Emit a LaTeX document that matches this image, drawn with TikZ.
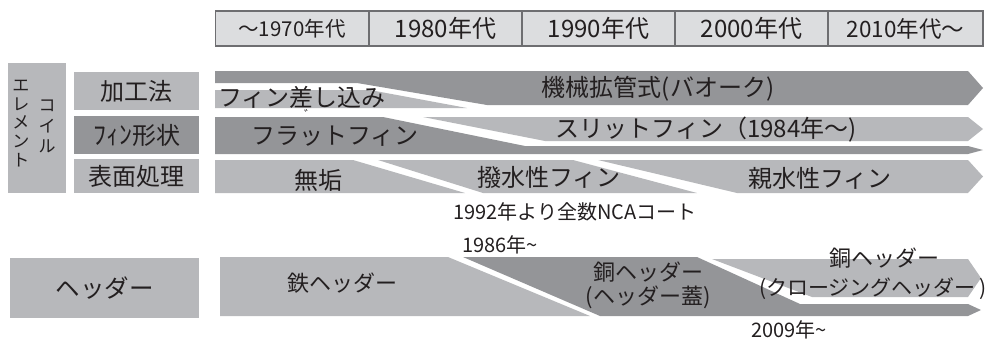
\documentclass[tikz,border=0pt]{standalone}
\usepackage{fontspec}
\setmainfont{Noto Sans CJK JP}
\newcommand\myfs[1]{\fontsize{#1}{#1}\selectfont}
\definecolor{lgray}{RGB}{183,184,187}
\definecolor{dgray}{RGB}{148,149,152}
\definecolor{tgray}{RGB}{220,221,223}
\definecolor{bgray}{RGB}{110,110,113}
\definecolor{ink}{RGB}{35,31,32}
\tikzset{
  lband/.style={fill=lgray, draw=none},
  dband/.style={fill=dgray, draw=none},
  lbox/.style={fill=lgray, draw=none, inner sep=0pt, text=ink, font=\myfs{24}},
  dbox/.style={fill=dgray, draw=none, inner sep=0pt, text=ink, font=\myfs{24}},
  txt/.style={inner sep=0pt, text=ink, font=\myfs{24}},
  stxt/.style={inner sep=0pt, text=ink, font=\myfs{20}},
  htxt/.style={inner sep=0pt, text=ink, font=\myfs{22}},
  vtxt/.style={inner sep=0pt, text=ink, align=center, anchor=north},
  cell/.style={fill=tgray, draw=bgray, line width=1.1pt, inner sep=0pt, minimum height=35pt, minimum width=153pt, text=ink},
}
\begin{document}
\begin{tikzpicture}[x=1pt,y=-1pt]
\useasboundingbox (0,0) rectangle (993,341);

% decade table
\node[cell, font=\myfs{20.5}] (c1) at (292,28.5) {〜1970年代};
\node[cell, font=\myfs{24}] (c2) at (445.5,28.5) {1980年代};
\node[cell, font=\myfs{24}] (c3) at (598.5,28.5) {1990年代};
\node[cell, font=\myfs{24}] (c4) at (751.5,28.5) {2000年代};
\node[cell, font=\myfs{22.5}, minimum width=155pt] (c5) at (905.5,28.5) {2010年代〜};

% left labels
\node[lbox, minimum width=58pt, minimum height=130pt] (coil) at (37,128) {};
\node[vtxt, font={\fontsize{17}{18.7}\selectfont}] (coilA) at (21,80) {エ\\レ\\メ\\ン\\ト};
\node[vtxt, font={\fontsize{17}{20.5}\selectfont}] (coilB) at (47,100) {コ\\イ\\ル};
\node[lbox, minimum width=125pt, minimum height=38pt] (kakou) at (136.5,91) {加工法};
\node[dbox, minimum width=125pt, minimum height=38pt] (keijo) at (136.5,135) {{\myfs{26}ﾌｨﾝ}形状};
\node[lbox, minimum width=125pt, minimum height=34pt] (hyomen) at (136.5,176) {表面処理};
\node[lbox, minimum width=189pt, minimum height=60pt, font=\myfs{24.5}] (header) at (104.5,288) {ヘッダー};

% row 1
\fill[dband] (215,71) -- (968,71) -- (983,88) -- (968,105) -- (487,105) -- (357,83) -- (215,83) -- cycle;
\fill[lband] (215,90) -- (370,90) -- (467,108) -- (215,108) -- cycle;
% row 2
\fill[dband] (215,117) -- (383,117) -- (525,146) -- (968,146) -- (983,150) -- (968,154) -- (215,154) -- cycle;
\fill[lband] (423,117) -- (968,117) -- (983,129) -- (968,141) -- (545,141) -- cycle;
% row 3
\fill[lband] (215,160) -- (353,160) -- (465,193) -- (215,193) -- cycle;
\fill[lband] (378,160) -- (573,160) -- (697,193) -- (483,193) -- cycle;
\fill[lband] (598,160) -- (968,160) -- (983,176.5) -- (968,193) -- (737,193) -- cycle;
% header row
\fill[lband] (220,257) -- (448,257) -- (590,316) -- (220,316) -- cycle;
\fill[dband] (463,257) -- (697,257) -- (800,304) -- (968,304) -- (981,310) -- (968,316) -- (600,316) -- cycle;
\fill[lband] (712,259) -- (968,259) -- (981,278) -- (968,297) -- (812,297) -- cycle;

% band texts
\node[txt] (sashikomi) at (302,97) {フィン差し込み};
\node[txt] (kikai) at (658,89) {機械拡管式(バオーク)};
\node[inner sep=0pt, text=ink, font=\myfs{12}] (dakuten) at (310,114) {゛};
\node[txt] (flat) at (335,136) {フラットフィン};
\node[txt] (slit) at (706,130) {スリットフィン（1984年〜)};
\node[txt] (muku) at (318,180) {無垢};
\node[txt] (hassui) at (549,177) {撥水性フィン};
\node[txt] (shinsui) at (820,178) {親水性フィン};
\node[stxt] (nca) at (575,212) {1992年より全数NCAコート};
\node[stxt] (y1986) at (500,245) {1986年\textasciitilde};
\node[htxt] (tetsu) at (342,283) {鉄ヘッダー};
\node[htxt] (dou1) at (648,272) {銅ヘッダー};
\node[htxt] (futa) at (648,297) {(ヘッダー蓋)};
\node[htxt] (dou2) at (884,258) {銅ヘッダー};
\node[htxt, font=\myfs{21}] (closing) at (873,289) {(クロージングヘッダー\hspace{4pt})};
\node[stxt] (y2009) at (789,330) {2009年\textasciitilde};
\end{tikzpicture}
\end{document}
